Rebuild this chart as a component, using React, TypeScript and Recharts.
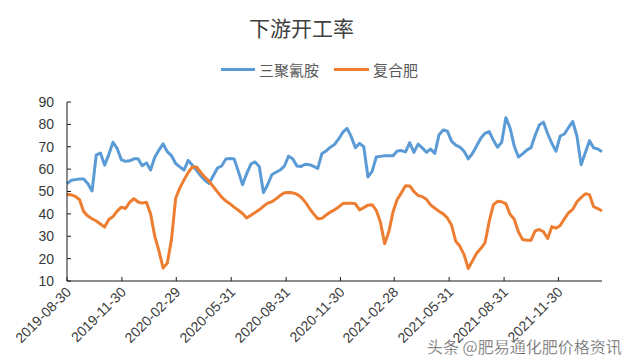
import { LineChart, Line, XAxis, YAxis } from 'recharts';

// weekly series, first week 2019-08-30
const START = '2019-08-30';

const melamine = [
  53.5, 55, 55.3, 55.6, 55.6, 53.5, 50.2, 66.4, 67.2, 61.8,
  66.5, 72, 69.2, 64.2, 63.5, 63.7, 64.6, 64.6, 61.5, 62.8,
  59.6, 65.3, 68.5, 71.3, 67.8, 66, 62.5, 61, 59.6, 63.9,
  61.7, 59.5, 57, 55, 53.6, 57, 60.5, 61.4, 64.5, 64.7,
  64.5, 59, 53, 58, 62.3, 63.2, 61.2, 49.5, 53, 57.5,
  58.6, 59.6, 61.3, 65.8, 64.6, 61.4, 61.2, 62.2, 62, 61.2,
  60.3, 67, 68.1, 69.8, 71, 73.5, 76.5, 78.2, 74.5, 69.6,
  71.5, 70, 56.5, 59, 65.4, 65.7, 66, 66, 66, 68.1,
  68.3, 67.7, 71.8, 67.5, 71.2, 69.5, 67.5, 69, 67, 75.3,
  77.5, 77, 72.5, 70.7, 69.8, 68, 64.6, 67, 70.3, 73.8,
  76, 76.8, 73, 69.8, 72, 83, 78.4, 70.3, 65.4, 66.8,
  68.5, 69.6, 75, 79.7, 81, 75.8, 71.5, 68, 74.8, 75.7,
  78.6, 81.3, 74.8, 62, 67.3, 72.7, 69.5, 69, 67.8,
];

const compound = [
  48.7, 48.5, 47.8, 46.3, 41, 39, 37.8, 36.8, 35.5, 34.1,
  37.5, 38.8, 41.2, 43, 42.4, 45.2, 46.8, 45.3, 44.8, 45.2,
  40, 30, 23.5, 15.8, 18, 28.5, 47, 51.6, 55.2, 58.5,
  61, 61, 58.5, 56.4, 54.6, 52.2, 49.8, 47.5, 45.8, 44.5,
  43, 41.6, 40.2, 38.2, 39.4, 40.6, 41.8, 43.4, 44.8, 45.4,
  46.7, 48.2, 49.4, 49.5, 49.4, 48.8, 47.4, 45.3, 42.5, 40,
  37.8, 38, 39.5, 40.8, 41.8, 43.1, 44.6, 44.7, 44.8, 44.5,
  41.8, 42.8, 43.9, 44.1, 41.6, 36.2, 26.7, 32, 40.8, 46.4,
  49.4, 52.6, 52.5, 50, 48.2, 47.7, 46.5, 44, 42.5, 41.2,
  40, 38.2, 35, 27.8, 25.5, 21.8, 15.6, 19, 22.4, 24.5,
  27, 36.5, 44, 45.6, 45.4, 44.6, 39.8, 37.6, 32, 28.5,
  28.2, 28.2, 32.4, 33, 32, 29, 34.3, 33.6, 34.8, 37.8,
  40.5, 42, 45.4, 47.3, 49, 48.6, 43.2, 42.4, 41.3,
];

const xTickLabels = [
  '2019-08-30', '2019-11-30', '2020-02-29', '2020-05-31', '2020-08-31',
  '2020-11-30', '2021-02-28', '2021-05-31', '2021-08-31', '2021-11-30',
];
const yTicks = [10, 20, 30, 40, 50, 60, 70, 80, 90];

const DAY = 86400000;
const toTime = (s: string) => Date.parse(s + 'T00:00:00Z');
const startTime = toTime(START);

const data = melamine.map((v, i) => ({
  t: startTime + i * 7 * DAY,
  melamine: v,
  compound: compound[i],
}));
const lastTime = data[data.length - 1].t;
const xTicks = xTickLabels.map(toTime);

const fmtDate = (t: number) => new Date(t).toISOString().slice(0, 10);

const BLUE = '#5B9BD5';
const ORANGE = '#ED7D31';
const AXIS = '#1a1a1a';
const LABEL = '#3a3a3a';
const FONT = '"Liberation Sans", Arial, sans-serif';
const CJK = '"Noto Sans CJK SC", sans-serif';

const YTick = ({ x, y, payload }: any) => (
  <g>
    <line x1={x} x2={x + 4} y1={y} y2={y} stroke={AXIS} />
    <text x={x - 13} y={y} dy="0.35em" textAnchor="end" fontSize={14} fill={LABEL} fontFamily={FONT}>
      {payload.value}
    </text>
  </g>
);

const XTick = ({ x, y, payload }: any) => (
  <g>
    <line x1={x} x2={x} y1={y} y2={y - 4} stroke={AXIS} />
    <text
      x={x + 5}
      y={y + 12}
      transform={`rotate(-45 ${x + 5} ${y + 12})`}
      textAnchor="end"
      fontSize={14}
      fill={LABEL}
      fontFamily={FONT}
    >
      {fmtDate(payload.value)}
    </text>
  </g>
);

export default function App() {
  return (
    <div style={{ position: 'absolute', left: 0, top: 0, width: 632, height: 364, background: '#fff', overflow: 'hidden' }}>
      <div style={{ position: 'absolute', left: 0, width: 603, top: 12, textAlign: 'center', fontFamily: CJK, fontSize: 21, color: '#404040' }}>
        下游开工率
      </div>
      <div style={{ position: 'absolute', left: 221, top: 59, display: 'flex', alignItems: 'center', fontFamily: CJK, fontSize: 15, color: '#595959' }}>
        <span style={{ display: 'inline-block', width: 34, height: 3, background: BLUE, marginRight: 4 }} />
        <span>三聚氰胺</span>
        <span style={{ display: 'inline-block', width: 35, height: 3, background: ORANGE, marginLeft: 15, marginRight: 4 }} />
        <span>复合肥</span>
      </div>
      <LineChart width={632} height={364} data={data} margin={{ top: 102, right: 30, left: 0, bottom: 0 }}>
        <XAxis
          dataKey="t"
          type="number"
          domain={[startTime, lastTime]}
          ticks={xTicks}
          interval={0}
          height={83}
          tickSize={0}
          tickMargin={0}
          tick={<XTick />}
          axisLine={{ stroke: AXIS }}
          tickLine={false}
        />
        <YAxis
          domain={[10, 90]}
          ticks={yTicks}
          interval={0}
          width={67}
          tickSize={0}
          tickMargin={0}
          tick={<YTick />}
          axisLine={{ stroke: AXIS }}
          tickLine={false}
        />
        <Line
          type="linear"
          dataKey="melamine"
          name="三聚氰胺"
          stroke={BLUE}
          strokeWidth={3}
          dot={false}
          strokeLinejoin="round"
          isAnimationActive={false}
        />
        <Line
          type="linear"
          dataKey="compound"
          name="复合肥"
          stroke={ORANGE}
          strokeWidth={3}
          dot={false}
          strokeLinejoin="round"
          isAnimationActive={false}
        />
      </LineChart>
      <div
        style={{
          position: 'absolute', left: 427, top: 336, fontFamily: CJK, fontSize: 16, lineHeight: '20px',
          color: '#555', WebkitTextStroke: '0.3px #fff', whiteSpace: 'nowrap',
        }}
      >
        头条 @肥易通化肥价格资讯
      </div>
    </div>
  );
}
